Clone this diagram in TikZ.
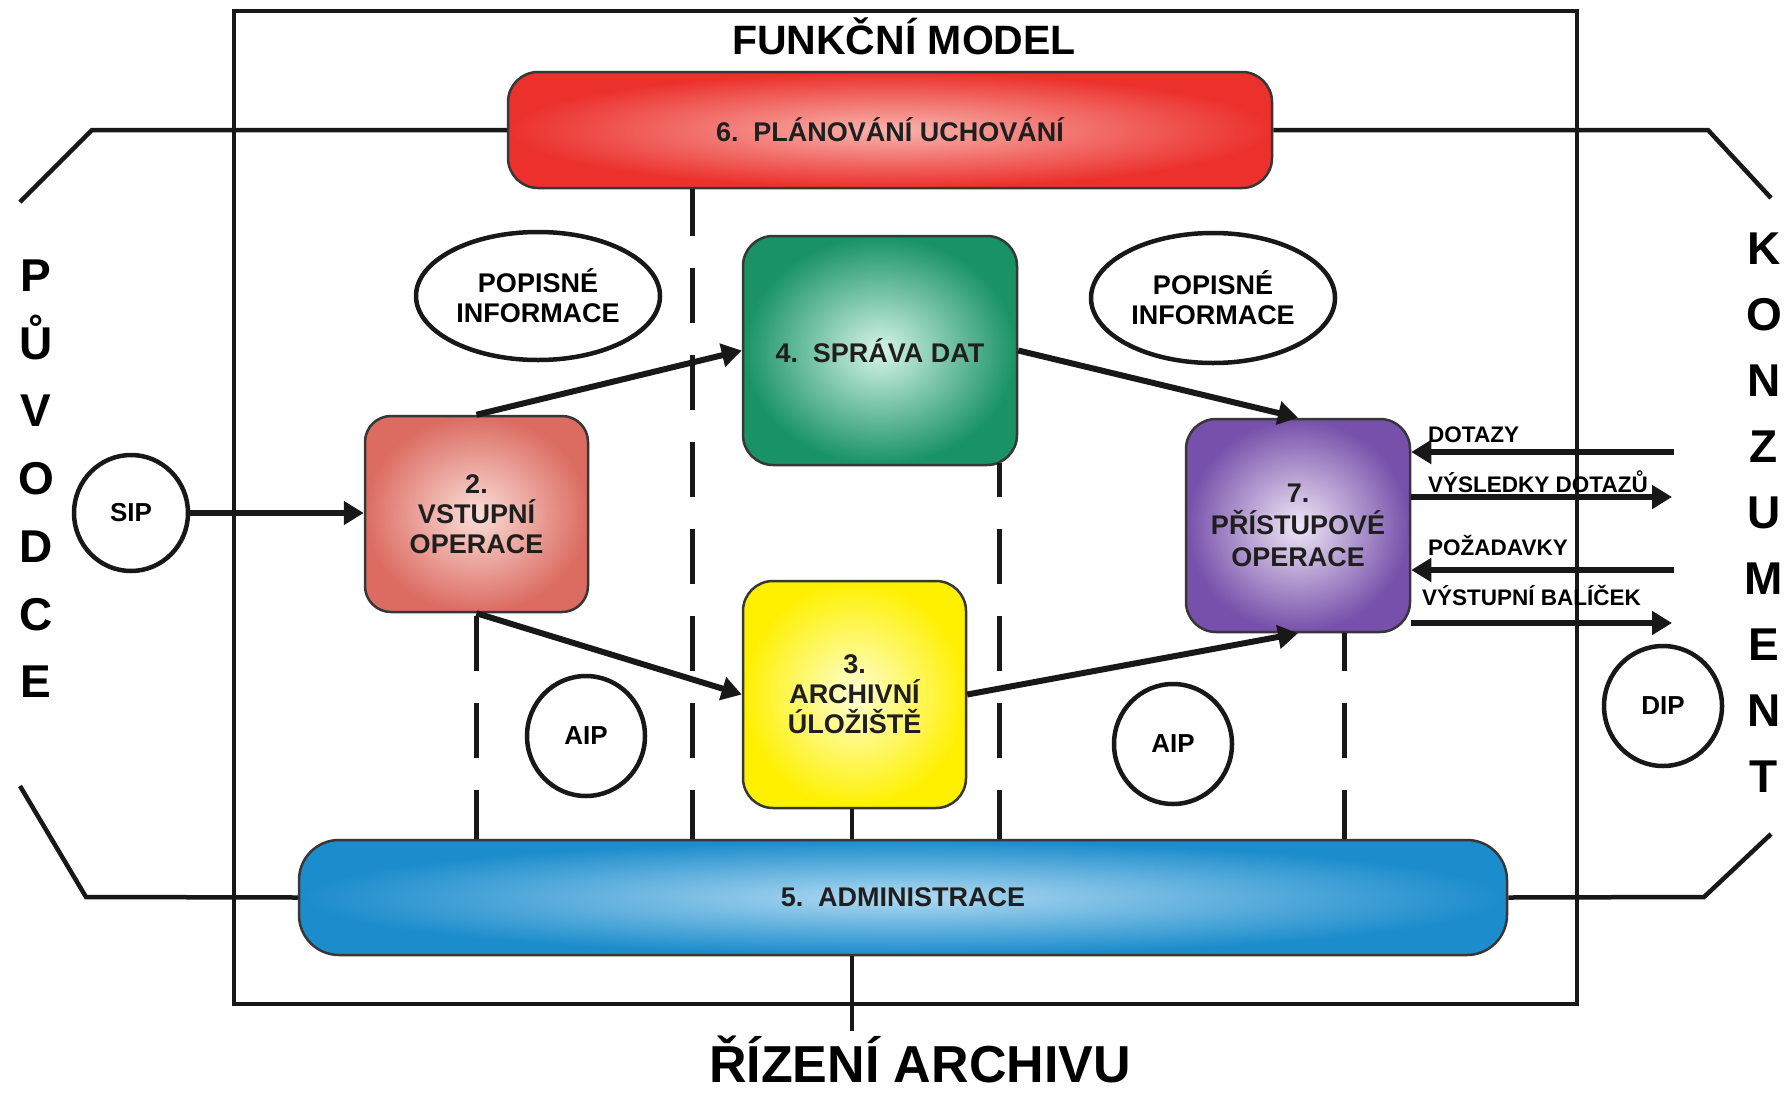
\documentclass[tikz,border=0pt]{standalone}
\usepackage{fontspec}
\setmainfont{Liberation Sans}
\usetikzlibrary{arrows.meta,shapes.geometric}

% palette
\definecolor{lineblack}{RGB}{24,24,24}
\definecolor{boxedge}{RGB}{55,55,55}
\definecolor{redout}{RGB}{236,48,44}
\definecolor{redin}{RGB}{248,180,174}
\definecolor{greenout}{RGB}{24,146,102}
\definecolor{greenin}{RGB}{214,244,232}
\definecolor{yellowout}{RGB}{255,240,0}
\definecolor{yellowin}{RGB}{255,255,212}
\definecolor{pinkout}{RGB}{220,108,98}
\definecolor{pinkin}{RGB}{250,222,216}
\definecolor{purpleout}{RGB}{118,80,170}
\definecolor{purplein}{RGB}{240,230,246}
\definecolor{blueout}{RGB}{27,140,204}
\definecolor{bluein}{RGB}{176,218,242}

% type sizes
\newcommand\lblfont{\bfseries\fontsize{27}{30}\selectfont}
\newcommand\tokfont{\bfseries\fontsize{26}{30}\selectfont}
\newcommand\lettfont{\bfseries\fontsize{46}{50}\selectfont}
\newcommand\arrowfont{\bfseries\fontsize{22.5}{26}\selectfont}
\newcommand\headfont{\bfseries\fontsize{41}{46}\selectfont}
\newcommand\ctrlfont{\bfseries\fontsize{52}{58}\selectfont}

\begin{document}
\frenchspacing
\begin{tikzpicture}[x=1pt,y=-1pt,
  line/.style={draw=lineblack, line width=4.5pt},
  dashline/.style={draw=lineblack, line width=5pt, dash pattern=on 55pt off 32pt},
  flow/.style={draw=lineblack, line width=6pt, -{Triangle[length=20pt,width=23pt]}},
  box/.style={draw=boxedge, line width=2.5pt, rounded corners=30pt, inner sep=0pt,
    align=center, font=\lblfont, text=black!88},
  bubble/.style={ellipse, draw=lineblack, line width=4.5pt, inner sep=0pt,
    align=center, font=\lblfont},
  token/.style={ellipse, draw=lineblack, line width=4.5pt, inner sep=0pt,
    font=\tokfont, minimum width=118pt, minimum height=120pt},
  letter/.style={anchor=base, inner sep=0pt, font=\lettfont},
  tag/.style={anchor=base west, inner sep=0pt, font=\arrowfont},
]
\fill[white] (0,0) rectangle (1790,1092);
\useasboundingbox (0,0) rectangle (1790,1092);

% outer frame of the functional model
\draw[line] (234,11) rectangle (1577,1004);
\node[anchor=base, inner sep=0pt, font=\headfont] (head) at (904,54) {FUNKČNÍ MODEL};

% functional entities
\node[box, shade, inner color=redin, outer color=redout,
  minimum width=764pt, minimum height=116pt] (plan) at (890,130)
  {6.\hspace{0.55em}PLÁNOVÁNÍ UCHOVÁNÍ};
\node[box, shade, inner color=greenin, outer color=greenout,
  minimum width=274pt, minimum height=229pt] (data) at (880,350.5)
  {4.\hspace{0.55em}SPRÁVA DAT};
\node[box, shade, inner color=yellowin, outer color=yellowout,
  minimum width=223pt, minimum height=227pt] (store) at (854.5,694.5)
  {3.\\ARCHIVNÍ\\ÚLOŽIŠTĚ};
\node[box, rounded corners=26pt, shade, inner color=pinkin, outer color=pinkout,
  minimum width=223pt, minimum height=196pt] (ingest) at (476.5,514)
  {2.\\VSTUPNÍ\\OPERACE};
\node[box, shade, inner color=purplein, outer color=purpleout,
  minimum width=224pt, minimum height=213pt, font=\bfseries\fontsize{27}{32}\selectfont]
  (access) at (1298,525.5) {7.\\PŘÍSTUPOVÉ\\OPERACE};
\node[box, rounded corners=40pt, shade, inner color=bluein, outer color=blueout,
  minimum width=1208pt, minimum height=115pt] (admin) at (903,897.5)
  {5.\hspace{0.55em}ADMINISTRACE};

% information objects
\node[bubble, minimum width=244pt, minimum height=128pt] (descL) at (538,296)
  {POPISNÉ\\INFORMACE};
\node[bubble, minimum width=244pt, minimum height=130pt] (descR) at (1213,298)
  {POPISNÉ\\INFORMACE};
\node[token, minimum width=114pt, minimum height=116pt] (sip) at (131,513) {SIP};
\node[token] (aipL) at (586,736) {AIP};
\node[token] (aipR) at (1173,744) {AIP};
\node[token] (dip) at (1663,706) {DIP};

% producer and consumer captions
\foreach \ch [count=\i] in {P,Ů,V,O,D,C,E}
  \node[letter] (prod\i) at (36,{275+67.7*(\i-1)+16.5}) {\ch};
\foreach \ch [count=\i] in {K,O,N,Z,U,M,E,N,T}
  \node[letter] (cons\i) at (1764,{248+66*(\i-1)+16.5}) {\ch};

% management caption
\node[anchor=base, inner sep=0pt, font=\ctrlfont] (ctrl) at (920,1082) {ŘÍZENÍ ARCHIVU};

% bracket lines towards producer and consumer
\coordinate (ul1) at (92,130);   \coordinate (ul2) at (20,202);
\coordinate (ur1) at (1708,130); \coordinate (ur2) at (1771,198);
\coordinate (ll1) at (86,897);   \coordinate (ll2) at (20,786);
\coordinate (lr1) at (1704,897); \coordinate (lr2) at (1771,834);
\draw[line] (plan.west) -- (ul1) -- (ul2);
\draw[line] (plan.east) -- (ur1) -- (ur2);
\draw[line] (admin.west) -- (ll1) -- (ll2);
\draw[line] (admin.east) -- (lr1) -- (lr2);

% vertical links to administration
\coordinate (v1) at (692,0);
\coordinate (v2) at (476,0);
\coordinate (v3) at (999,0);
\coordinate (v4) at (1344,0);
\coordinate (v5) at (852,0);
\draw[dashline, dash phase=8pt]  (plan.south -| v1) -- (admin.north -| v1);
\draw[dashline, dash phase=84pt] (ingest.south -| v2) -- (admin.north -| v2);
\draw[dashline, dash phase=21pt] ([yshift=3pt]data.south -| v3) -- (admin.north -| v3);
\draw[dashline, dash phase=17pt] (access.south -| v4) -- (admin.north -| v4);
\draw[line] (store.south -| v5) -- (admin.north -| v5);
\draw[line] (admin.south -| v5) -- ([yshift=4pt]ctrl.north -| v5);

% data flows
\draw[flow] (sip.east) -- (sip.east -| ingest.west);
\draw[flow] (ingest.north) -- (data.west);
\draw[flow] (data.east) -- (access.north);
\draw[flow] (ingest.south) -- (store.west);
\draw[flow] (store.east) -- (access.south);

% exchange with the consumer
\coordinate (q1) at (1674,452);
\coordinate (q2) at (1672,497);
\coordinate (q3) at (1674,570);
\coordinate (q4) at (1672,623);
\draw[flow] (q1) -- (q1 -| access.east);
\draw[flow] (q2 -| access.east) -- (q2);
\draw[flow] (q3) -- (q3 -| access.east);
\draw[flow] (q4 -| access.east) -- (q4);
\node[tag] (t1) at (1428,442) {DOTAZY};
\node[tag] (t2) at (1428,492) {VÝSLEDKY DOTAZŮ};
\node[tag] (t3) at (1428,555) {POŽADAVKY};
\node[tag] (t4) at (1422,605) {VÝSTUPNÍ BALÍČEK};
\end{tikzpicture}
\end{document}
